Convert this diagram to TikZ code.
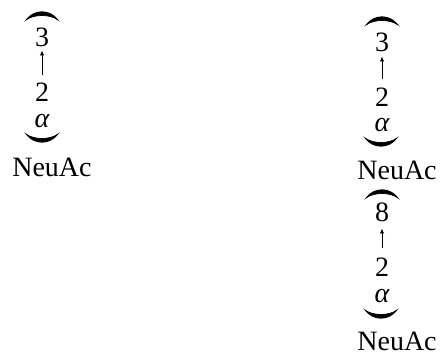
\documentclass[tikz,border=0pt]{standalone}
\usepackage{fontspec}
\setmainfont{Liberation Serif}
\usetikzlibrary{arrows.meta}
\tikzset{
  lbl/.style={inner sep=0pt, anchor=base, font=\fontsize{28}{30}\selectfont},
  link/.style={line width=0.9pt, -{Latex[length=5pt,width=4.5pt]}},
  toparc/.pic={\filldraw[line width=0.7pt] (-16,0) .. controls (-8,-11) and (8,-11) .. (16,0) .. controls (8,-6) and (-8,-6) .. cycle;},
  botarc/.pic={\filldraw[line width=0.7pt] (-16,0) .. controls (-8,11) and (8,11) .. (16,0) .. controls (8,6) and (-8,6) .. cycle;}
}
\begin{document}
\begin{tikzpicture}[x=1pt,y=-1pt]
\useasboundingbox (0,0) rectangle (440,355);
% left column
\pic at (42,20) {toparc};
\node[lbl] (l3) at (42,47) {3};
\node[lbl] (l2) at (42,102) {2};
\node[lbl] (la) at (42,128) {\itshape α};
\pic at (42,134) {botarc};
\node[lbl] (lN) at (52,177) {NeuAc};
\draw[link, shorten <=8pt, shorten >=3pt] (l2.north) -- (l3.south);
% right column, upper
\pic at (382,25) {toparc};
\node[lbl] (r3) at (382,52) {3};
\node[lbl] (r2) at (382,107) {2};
\node[lbl] (ra) at (382,132) {\itshape α};
\pic at (381,138) {botarc};
\node[lbl] (rN) at (397,180) {NeuAc};
\draw[link, shorten <=9pt, shorten >=4pt] (r2.north) -- (r3.south);
% right column, lower
\pic at (382,198) {toparc};
\node[lbl] (s8) at (382,222) {8};
\node[lbl] (s2) at (382,277) {2};
\node[lbl] (sa) at (382,303) {\itshape α};
\pic at (381,310) {botarc};
\node[lbl] (sN) at (397,351) {NeuAc};
\draw[link, shorten <=10pt, shorten >=6pt] (s2.north) -- (s8.south);
\end{tikzpicture}
\end{document}
